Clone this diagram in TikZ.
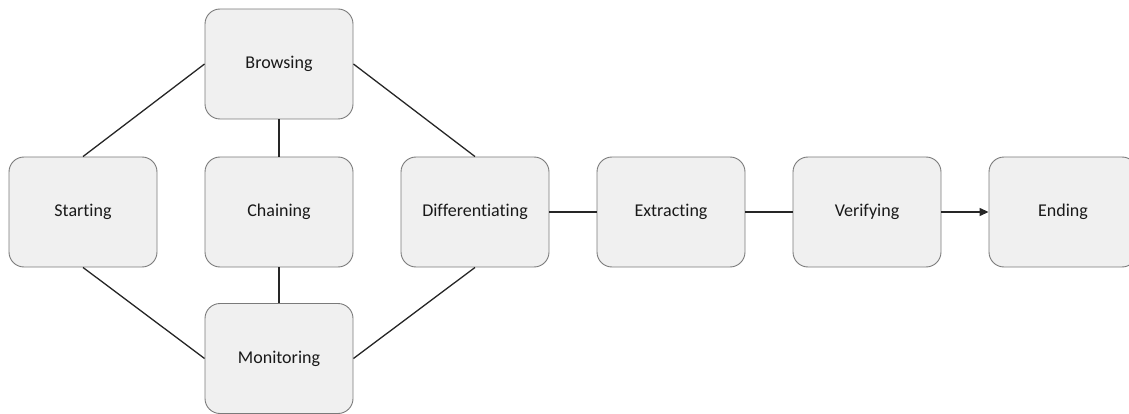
\documentclass[tikz,border=0pt]{standalone}
\usepackage{fontspec}
\setmainfont[Ligatures=NoCommon]{Carlito}
\usetikzlibrary{arrows.meta}

\definecolor{boxfill}{HTML}{F0F0F0}
\definecolor{boxline}{HTML}{7A7A7A}

\tikzset{
    stage/.style={draw=boxline,fill=boxfill,line width=0.9pt,rounded corners=15pt,
        minimum width=148pt,minimum height=110pt,font=\fontsize{18}{20}\selectfont,
        text=black!90},
    link/.style={line width=1.3pt,black!85}
}

\begin{document}
\begin{tikzpicture}[x=1pt,y=1pt]
            \useasboundingbox (0,0) rectangle (1129,-414);

            \foreach \n/\t/\x in {start/Starting/83,chain/Chaining/279,diff/Differentiating/475,extr/Extracting/671,veri/Verifying/867,ending/Ending/1063}{
                \node[stage](\n) at (\x,-212) {\t};
            }
            \node[stage](brow) at (279,-64) {Browsing};
            \node[stage](moni) at (279,-358.5) {Monitoring};

            \draw[link](start.north)--(brow.west);
            \draw[link](start.south)--(moni.west);
            \draw[link](brow.south)--(chain.north);
            \draw[link](chain.south)--(moni.north);
            \draw[link](brow.east)--(diff.north);
            \draw[link](moni.east)--(diff.south);
            \draw[link](diff)--(extr);
            \draw[link](extr)--(veri);
            \draw[link,-{Triangle[length=9pt,width=8pt]}](veri)--(ending);

        \end{tikzpicture}
\end{document}
